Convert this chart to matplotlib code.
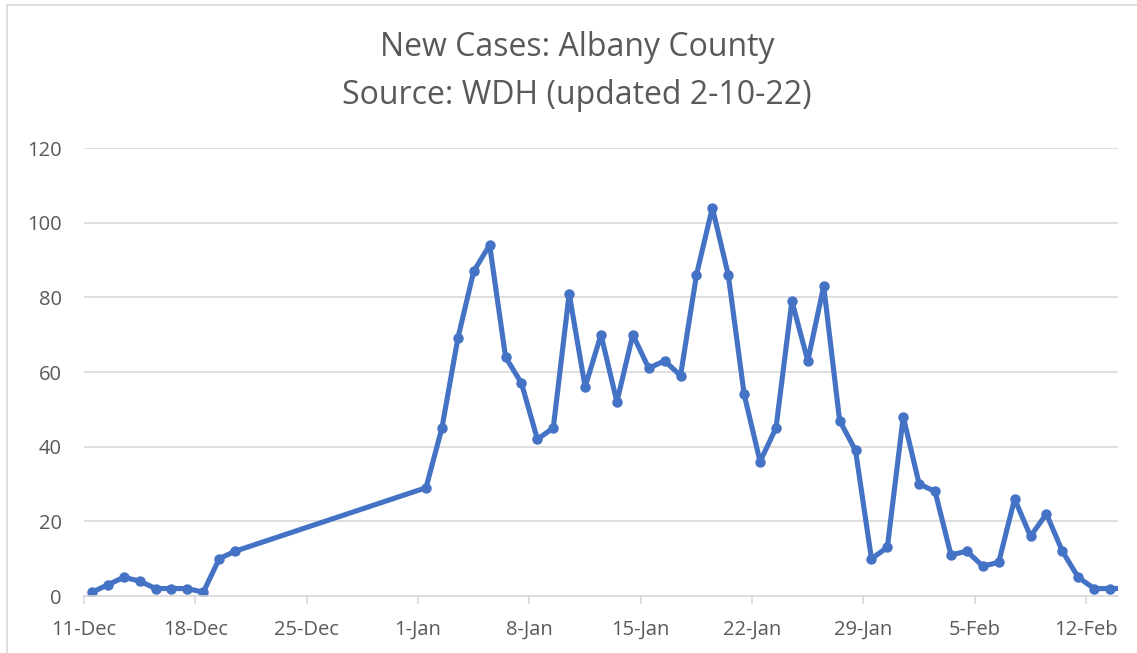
import matplotlib
matplotlib.use("Agg")
import matplotlib.pyplot as plt
import matplotlib.dates as mdates
import numpy as np
import pandas as pd

# Daten
dec_days = pd.date_range("2021-12-11", "2021-12-20")
dec_cases = [1, 3, 5, 4, 2, 2, 2, 1, 10, 12]
jan_days = pd.date_range("2022-01-01", "2022-02-14")
jan_cases = [29, 45, 69, 87, 94, 64, 57, 42, 45, 81,
             56, 70, 52, 70, 61, 63, 59, 86, 104, 86,
             54, 36, 45, 79, 63, 83, 47, 39, 10, 13,
             48, 30, 28, 11, 12, 8, 9, 26, 16, 22,
             12, 5, 2, 2, 2]
tick_dates = pd.date_range("2021-12-11", "2022-02-12", freq="7D")
title_lines = ["New Cases: Albany County", "Source: WDH (updated 2-10-22)"]

dates = dec_days.append(jan_days)
cases = dec_cases + jan_cases

plt.rcParams["font.family"] = ["Open Sans", "DejaVu Sans"]
grey = "#595959"
gridc = "#D9D9D9"

fig = plt.figure(figsize=(11.37, 6.53), dpi=100)
ax = fig.add_axes([84 / 1137, 1 - 596 / 653, (1118 - 84) / 1137, (596 - 148) / 653])

# Punkte in der Tagesmitte (wie Excel-Datumsachse)
x = dates + pd.Timedelta(hours=12)
ax.plot(x, cases, "-o", color="#4472C4", linewidth=3.7, markersize=6.5,
        solid_joinstyle="round", clip_on=True)

ax.set_xlim(pd.Timestamp("2021-12-11"), pd.Timestamp("2022-02-14"))
ax.set_ylim(0, 120)
ax.set_yticks(np.arange(0, 121, 20))
ax.set_xticks(tick_dates)
ax.xaxis.set_major_formatter(mdates.DateFormatter("%-d-%b"))

ax.grid(True, axis="y", color=gridc, linewidth=1.2)
ax.set_axisbelow(True)
for s in ["top", "right", "left"]:
    ax.spines[s].set_visible(False)
ax.spines["bottom"].set_color(gridc)
ax.spines["bottom"].set_linewidth(1.2)
ax.tick_params(axis="x", colors=gridc, length=6, width=1.2, labelcolor=grey,
               labelsize=14.5, pad=11)
ax.tick_params(axis="y", length=0, labelcolor=grey, labelsize=14.5, pad=16)

# Titel
fig.text(577 / 1137, 1 - 48 / 653, title_lines[0], ha="center", va="center",
         fontsize=23, color=grey)
fig.text(577 / 1137, 1 - 95 / 653, title_lines[1], ha="center", va="center",
         fontsize=23, color=grey)

# Rahmen
fig.add_artist(plt.Line2D([7 / 1137, 7 / 1137], [0, 1 - 5 / 653], color=gridc, linewidth=1.2))
fig.add_artist(plt.Line2D([7 / 1137, 1], [1 - 5 / 653, 1 - 5 / 653], color=gridc, linewidth=1.2))

fig.savefig("out.png", dpi=100)
